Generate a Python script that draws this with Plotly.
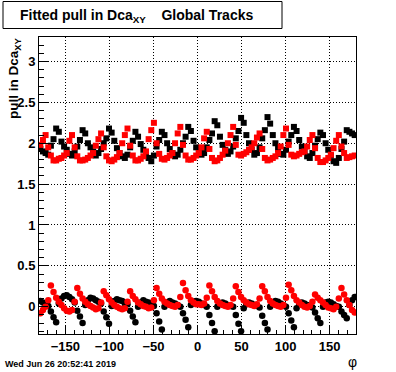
import numpy as np
import plotly.graph_objects as go

# bin centres in phi (3 degree bins)
phi = np.arange(-178.5, 180, 3.0)

upper_black = [
    1.93, 1.90, 1.88, 1.86, 1.97, 2.05, 2.18, 2.14, 2.02, 1.96,
    1.92, 1.87, 1.85, 1.90, 1.96, 2.04, 2.16, 2.12, 2.00, 1.95,
    1.90, 1.85, 1.88, 1.93, 2.00, 2.06, 2.18, 2.13, 2.03, 1.94,
    1.88, 1.84, 1.82, 1.86, 1.95, 2.03, 2.14, 2.08, 1.99, 1.92,
    1.87, 1.82, 1.78, 1.85, 1.96, 2.04, 2.14, 2.10, 2.00, 1.93,
    1.88, 1.84, 1.86, 1.92, 2.00, 2.08, 2.20, 2.15, 2.03, 1.95,
    1.90, 1.86, 1.88, 1.95, 2.04, 2.12, 2.27, 2.22, 2.08, 1.98,
    1.92, 1.87, 1.90, 1.96, 2.06, 2.15, 2.31, 2.25, 2.10, 2.00,
    1.92, 1.86, 1.88, 1.95, 2.06, 2.16, 2.32, 2.24, 2.10, 2.00,
    1.93, 1.87, 1.86, 1.92, 2.02, 2.10, 2.20, 2.15, 2.04, 1.96,
    1.90, 1.84, 1.82, 1.88, 1.97, 2.05, 2.13, 2.10, 2.00, 1.92,
    1.85, 1.78, 1.76, 1.82, 1.93, 2.02, 2.16, 2.14, 2.12, 2.10,
]

upper_red = [
    1.98, 2.04, 2.10, 1.95, 1.85, 1.79, 1.79, 1.81, 1.82, 1.85,
    1.88, 2.03, 2.10, 1.95, 1.84, 1.79, 1.79, 1.80, 1.82, 1.85,
    1.88, 1.97, 2.05, 2.12, 1.95, 1.84, 1.79, 1.78, 1.80, 1.83,
    1.88, 2.00, 2.10, 2.18, 1.97, 1.85, 1.79, 1.79, 1.81, 1.84,
    1.90, 2.05, 2.16, 2.25, 2.00, 1.87, 1.81, 1.80, 1.82, 1.85,
    1.88, 2.00, 2.12, 2.20, 1.98, 1.85, 1.80, 1.80, 1.82, 1.85,
    1.88, 1.95, 2.06, 2.14, 1.93, 1.82, 1.78, 1.79, 1.82, 1.86,
    1.91, 2.00, 2.10, 2.20, 1.98, 1.86, 1.85, 1.87, 1.89, 1.92,
    1.95, 2.00, 2.07, 2.12, 1.93, 1.82, 1.79, 1.80, 1.82, 1.84,
    1.88, 1.96, 2.10, 2.18, 1.98, 1.86, 1.84, 1.85, 1.87, 1.89,
    1.90, 1.96, 2.04, 2.10, 1.94, 1.82, 1.77, 1.77, 1.79, 1.82,
    1.86, 1.94, 2.03, 2.10, 1.96, 1.88, 1.82, 1.83, 1.84, 1.85,
]

lower_black = [
    0.07, 0.05, 0.02, 0.01, -0.06, -0.13, -0.19, 0.04, 0.10, 0.13,
    0.14, 0.12, 0.09, 0.05, -0.05, -0.12, -0.20, 0.02, 0.08, 0.11,
    0.10, 0.08, 0.06, 0.04, -0.06, -0.13, -0.21, 0.01, 0.07, 0.09,
    0.08, 0.07, 0.04, 0.03, -0.05, -0.12, -0.19, 0.00, 0.05, 0.08,
    0.06, 0.05, 0.03, 0.01, -0.08, -0.18, -0.28, 0.00, 0.05, 0.07,
    0.05, 0.04, 0.02, 0.00, -0.08, -0.16, -0.25, 0.02, 0.06, 0.07,
    0.06, 0.04, 0.02, 0.00, -0.10, -0.20, -0.30, 0.00, 0.04, 0.05,
    0.04, 0.02, 0.01, 0.00, -0.10, -0.21, -0.30, -0.02, 0.03, 0.05,
    0.04, 0.02, 0.01, -0.01, -0.11, -0.20, -0.28, 0.00, 0.05, 0.07,
    0.06, 0.04, 0.02, 0.00, -0.08, -0.17, -0.25, -0.02, 0.03, 0.05,
    0.04, 0.02, 0.01, -0.01, -0.07, -0.14, -0.20, 0.00, 0.05, 0.06,
    0.05, 0.03, 0.01, 0.00, -0.06, -0.10, -0.14, 0.02, 0.08, 0.12,
]

lower_red = [
    -0.08, -0.04, 0.00, 0.08, 0.26, 0.18, 0.11, 0.06, 0.02, -0.02,
    -0.05, -0.06, -0.04, 0.06, 0.23, 0.16, 0.10, 0.06, 0.03, 0.01,
    -0.01, -0.03, -0.02, 0.05, 0.19, 0.14, 0.09, 0.05, 0.02, 0.00,
    -0.02, -0.03, -0.02, 0.06, 0.19, 0.13, 0.09, 0.05, 0.03, 0.01,
    0.00, -0.02, -0.01, 0.08, 0.23, 0.16, 0.10, 0.06, 0.04, 0.02,
    0.01, 0.00, 0.02, 0.12, 0.29, 0.20, 0.13, 0.08, 0.05, 0.03,
    0.03, 0.02, 0.04, 0.11, 0.26, 0.19, 0.12, 0.07, 0.04, 0.02,
    0.01, 0.00, 0.02, 0.10, 0.25, 0.18, 0.12, 0.08, 0.05, 0.03,
    0.02, 0.01, 0.03, 0.10, 0.25, 0.19, 0.12, 0.07, 0.04, 0.02,
    0.01, 0.00, 0.02, 0.11, 0.27, 0.20, 0.13, 0.08, 0.05, 0.02,
    0.00, -0.01, 0.01, 0.06, 0.15, 0.11, 0.08, 0.05, 0.02, -0.01,
    -0.02, -0.03, 0.00, 0.10, 0.23, 0.15, 0.08, 0.02, -0.04, -0.07,
]

x_ticks = [-150, -100, -50, 0, 50, 100, 150]
y_ticks = [0, 0.5, 1, 1.5, 2, 2.5, 3]

W, H = 396, 372
L, R, T, B = 39, 356, 37, 334


def px(xp):
    return (xp - L) / (R - L)


def py(yp):
    return (B - yp) / (B - T)


FONT = "Liberation Sans, Arial, sans-serif"

fig = go.Figure()
fig.add_trace(go.Scatter(x=phi, y=upper_black, mode="markers",
                         marker=dict(symbol="square", size=6, color="black", line=dict(width=0))))
fig.add_trace(go.Scatter(x=phi, y=lower_black, mode="markers",
                         marker=dict(symbol="circle", size=6.5, color="black", line=dict(width=0))))
fig.add_trace(go.Scatter(x=phi, y=upper_red, mode="markers",
                         marker=dict(symbol="square", size=6, color="red", line=dict(width=0))))
fig.add_trace(go.Scatter(x=phi, y=lower_red, mode="markers",
                         marker=dict(symbol="circle", size=6.5, color="red", line=dict(width=0))))

axis_common = dict(
    showline=True, linecolor="black", linewidth=1, mirror=True,
    ticks="inside", tickcolor="black", ticklen=9, tickwidth=1,
    showgrid=True, gridcolor="black", gridwidth=1, griddash="1px,2px",
    zeroline=False,
    tickfont=dict(family=FONT, size=13, color="black", weight="bold"),
)

fig.update_xaxes(range=[-180, 180], tickvals=x_ticks,
                 minor=dict(ticks="inside", ticklen=4.5, dtick=10, tickcolor="black", showgrid=False),
                 **axis_common)
fig.update_yaxes(range=[-0.334, 3.30], tickvals=y_ticks,
                 minor=dict(ticks="inside", ticklen=4.5, dtick=0.1, tickcolor="black", showgrid=False),
                 **axis_common)

fig.update_layout(
    width=W, height=H,
    margin=dict(l=L, r=W - R, t=T, b=H - B, pad=0),
    paper_bgcolor="white", plot_bgcolor="white",
    showlegend=False,
    shapes=[dict(type="rect", xref="paper", yref="paper",
                 x0=px(3), x1=px(282), y0=py(28.5), y1=py(1.5),
                 line=dict(color="black", width=1), fillcolor="white", layer="above")],
    annotations=[
        dict(text="Fitted pull in Dca<sub>XY</sub>    Global Tracks", xref="paper", yref="paper",
             x=px(18), y=py(16), xanchor="left", yanchor="middle", showarrow=False,
             font=dict(family=FONT, size=14, color="black", weight="bold")),
        dict(text="pull in Dca<sub>XY</sub>", xref="paper", yref="paper", textangle=-90,
             x=px(14), y=py(35), xanchor="center", yanchor="top", showarrow=False,
             font=dict(family=FONT, size=13.5, color="black", weight="bold")),
        dict(text="φ", xref="paper", yref="paper",
             x=px(352), y=py(362), xanchor="center", yanchor="middle", showarrow=False,
             font=dict(family=FONT, size=14, color="black")),
        dict(text="Wed Jun 26 20:52:41 2019", xref="paper", yref="paper",
             x=px(3), y=py(364), xanchor="left", yanchor="middle", showarrow=False,
             font=dict(family=FONT, size=9, color="black", weight="bold")),
    ],
)

fig.write_html("out.html", config={"displayModeBar": False},
               post_script="document.body.style.margin='0';document.body.style.overflow='hidden';")
